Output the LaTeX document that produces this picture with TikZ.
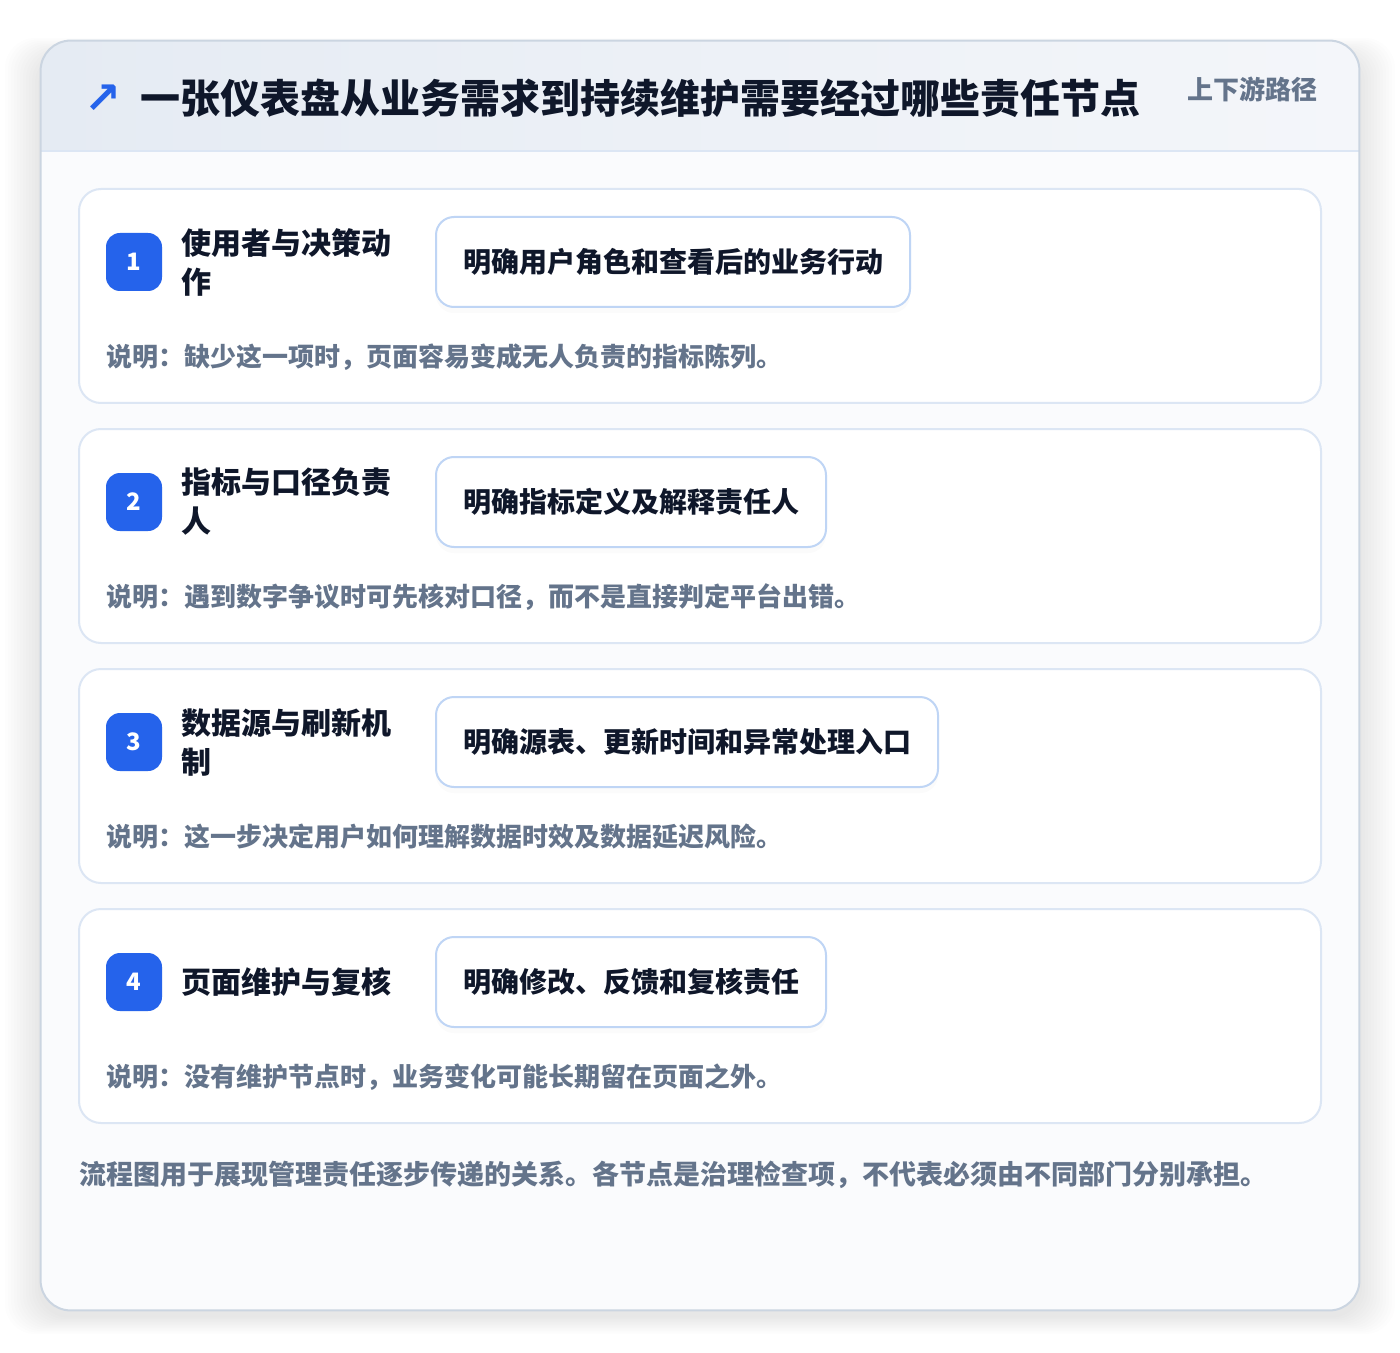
\documentclass[tikz,border=0pt]{standalone}
\usepackage{fontspec}
\setmainfont{Noto Sans CJK SC}
\newfontfamily\arrowfont{DejaVu Sans}
\usepackage{tikz}
\usetikzlibrary{positioning,shadows}
\definecolor{badgeblue}{HTML}{2563EB}
\definecolor{ink}{HTML}{0F172A}
\definecolor{muted}{HTML}{64748B}
\definecolor{cardline}{HTML}{DCE6F4}
\definecolor{pillline}{HTML}{BFD5F5}
\definecolor{outline}{HTML}{CBD5E1}
\definecolor{headL}{HTML}{E5EBF3}
\definecolor{headR}{HTML}{F4F6FA}
\definecolor{bodybg}{HTML}{FAFBFD}
\tikzstyle{panel}=[fill=bodybg,rounded corners=15pt,minimum width=659pt,minimum height=634.5pt,inner sep=0pt]
\tikzstyle{card}=[draw=cardline,line width=1pt,fill=white,rounded corners=11pt,minimum width=621pt,minimum height=107pt,inner sep=0pt]
\tikzstyle{badge}=[fill=badgeblue,text=white,rounded corners=7pt,minimum width=28pt,minimum height=29pt,inner sep=0pt,font=\fontsize{12}{14}\selectfont\bfseries]
\tikzstyle{heading}=[anchor=west,align=left,inner sep=0pt,text=ink,font=\fontsize{15}{19.5}\selectfont\bfseries]
\tikzstyle{pill}=[anchor=west,draw=pillline,line width=1pt,fill=white,rounded corners=9pt,minimum height=45pt,inner xsep=13.5pt,text=ink,font=\fontsize{14}{16}\selectfont\bfseries,drop shadow={opacity=0.03,shadow xshift=0pt,shadow yshift=-3pt}]
\tikzstyle{note}=[anchor=west,inner sep=0pt,text=muted,font=\fontsize{13}{15}\selectfont\bfseries]

\begin{document}
\begin{tikzpicture}[x=0.5pt,y=-0.5pt]
  \useasboundingbox[fill=white] (0,0) rectangle (1400,1352);

  % soft shadow of the panel
  \foreach \d in {3,6,...,36}{
    \fill[black,opacity=0.006,rounded corners=15pt] (41-\d,56-\d/2) rectangle (1359+\d,1316+\d/2);
  }

  \node[panel] (panel) at (700,675.5) {};
  \begin{scope}
    \clip[rounded corners=15pt] (panel.north west) rectangle (panel.south east);
    \fill[left color=headL,right color=headR] (41,41) rectangle (1359,151);
  \end{scope}
  \draw[cardline,line width=1pt] (41,151) -- (1359,151);
  \draw[outline,line width=1pt,rounded corners=15pt] (panel.north west) rectangle (panel.south east);

  \node[anchor=west,inner sep=0pt,text=badgeblue,font=\fontsize{22}{22}\selectfont\arrowfont\bfseries] (icon) at (84,99) {↗};
  \node[anchor=west,inner sep=0pt,text=ink,font=\fontsize{20}{24}\selectfont\bfseries] (title) at (140,98) {一张仪表盘从业务需求到持续维护需要经过哪些责任节点};
  \node[anchor=east,inner sep=0pt,text=muted,font=\fontsize{13}{15}\selectfont\bfseries] (tag) at (1318,89) {上下游路径};

  \foreach \i/\head/\goal/\why in {
    1/{使用者与决策动\\作}/明确用户角色和查看后的业务行动/说明：缺少这一项时，页面容易变成无人负责的指标陈列。,
    2/{指标与口径负责\\人}/明确指标定义及解释责任人/说明：遇到数字争议时可先核对口径，而不是直接判定平台出错。,
    3/{数据源与刷新机\\制}/明确源表、更新时间和异常处理入口/说明：这一步决定用户如何理解数据时效及数据延迟风险。,
    4/{页面维护与复核}/明确修改、反馈和复核责任/说明：没有维护节点时，业务变化可能长期留在页面之外。}{
    \begin{scope}[shift={(0,{189+240*(\i-1)})}]
      \node[card] (card\i) at (700,107) {};
      \node[badge] (badge\i) at (134,73) {\i};
      \node[heading,right=9.5pt of badge\i] (head\i) {\head};
      \node[pill] (pill\i) at (435,73) {\goal};
      \node[note] (note\i) at (106,168) {\why};
    \end{scope}
  }

  \node[anchor=west,inner sep=0pt,text=muted,font=\fontsize{13.5}{16}\selectfont\bfseries] (footer) at (79,1175) {流程图用于展现管理责任逐步传递的关系。各节点是治理检查项，不代表必须由不同部门分别承担。};
\end{tikzpicture}
\end{document}
